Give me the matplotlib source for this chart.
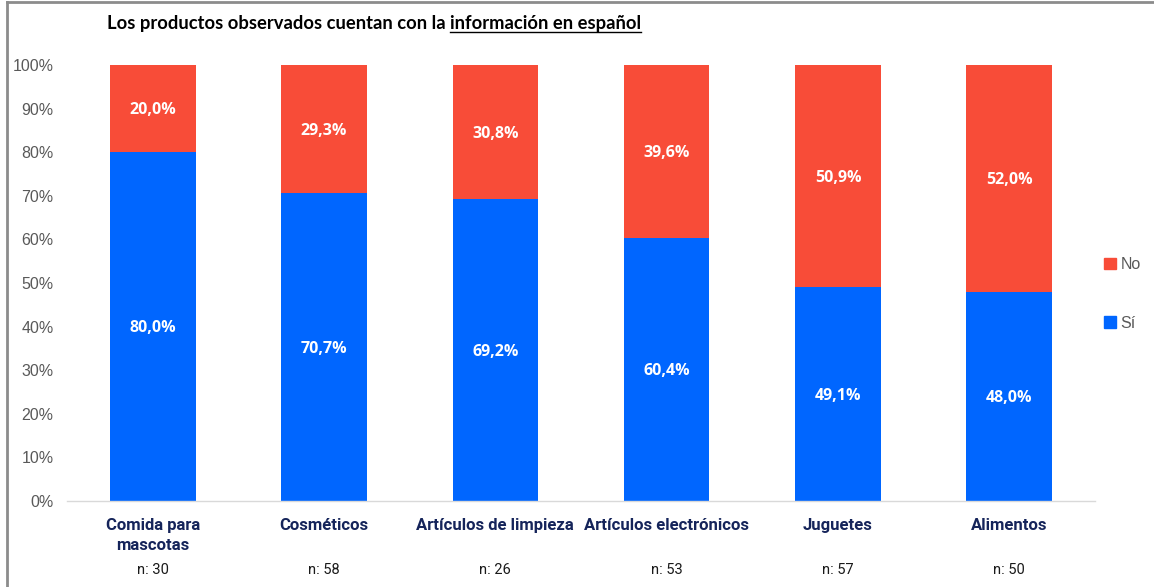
import matplotlib
matplotlib.use("Agg")
import matplotlib.pyplot as plt
from matplotlib.lines import Line2D
import numpy as np

categories = ["Comida para\nmascotas", "Cosméticos", "Artículos de limpieza",
              "Artículos electrónicos", "Juguetes", "Alimentos"]
si_vals = [80.0, 70.7, 69.2, 60.4, 49.1, 48.0]
no_vals = [20.0, 29.3, 30.8, 39.6, 50.9, 52.0]
n_vals = [30, 58, 26, 53, 57, 50]
yticks = [0, 10, 20, 30, 40, 50, 60, 70, 80, 90, 100]

c_si = "#0066FF"
c_no = "#F84C38"

W, H = 1154, 587
fig = plt.figure(figsize=(W/100, H/100), dpi=100)
ax = fig.add_axes([67/W, 1-501/H, (1095-67)/W, (501-65)/H])

x = np.arange(len(categories))
ax.bar(x, si_vals, width=0.5, color=c_si, label="Sí", zorder=2)
ax.bar(x, no_vals, bottom=si_vals, width=0.5, color=c_no, label="No", zorder=2)

for xi, s, n in zip(x, si_vals, no_vals):
    ax.text(xi, s/2 - 0.4, f"{s:.1f}".replace(".", ",") + "%", ha="center", va="center",
            color="white", fontsize=11.5, fontweight="bold", family="Open Sans")
    ax.text(xi, s + n/2 - 0.4, f"{n:.1f}".replace(".", ",") + "%", ha="center", va="center",
            color="white", fontsize=11.5, fontweight="bold", family="Open Sans")

ax.set_xlim(-0.5, len(categories)-0.5)
ax.set_ylim(0, 100)
ax.set_yticks(yticks)
ax.set_yticklabels([f"{t}%" for t in yticks], color="#595959", fontsize=11.5, family="Liberation Sans")
ax.tick_params(axis="y", length=0, pad=9.7)
ax.set_xticks([])
for s in ["top", "right", "left"]:
    ax.spines[s].set_visible(False)
ax.spines["bottom"].set_color("#D9D9D9")
ax.spines["bottom"].set_linewidth(1)

for xi, cat, n in zip(x, categories, n_vals):
    ax.text(xi, -3.9, cat, ha="center", va="top", color="#15245A", fontsize=12,
            fontweight="bold", family="Roboto", linespacing=1.45)
    ax.text(xi, -14.2, f"n: {n}", ha="center", va="top", color="#1a1a1a", fontsize=10.5,
            family="Roboto")

title_y = 1 - 23/H
t1 = fig.text(107/W, title_y, "Los productos observados cuentan con la ", ha="left", va="center",
              fontsize=13.2, fontweight="bold", family="Lato", color="black")
fig.canvas.draw()
bb = t1.get_window_extent()
t2 = fig.text(bb.x1/W, title_y, "información en español", ha="left", va="center",
              fontsize=13.2, fontweight="bold", family="Lato", color="black")
fig.canvas.draw()
bb2 = t2.get_window_extent()
fig.add_artist(Line2D([bb2.x0/W, bb2.x1/W], [1-32/H, 1-32/H], color="black", lw=1))

handles = [plt.Rectangle((0, 0), 1, 1, color=c_no), plt.Rectangle((0, 0), 1, 1, color=c_si)]
leg = fig.legend(handles, ["No", "Sí"], loc="center left", bbox_to_anchor=(1090/W, 1-294/H),
                 frameon=False, handlelength=0.7, handleheight=0.7, handletextpad=0.3,
                 labelspacing=2.7, prop={"family": "Liberation Sans", "size": 11.5})
for t in leg.get_texts():
    t.set_color("#595959")

fig.add_artist(Line2D([7/W, 7/W], [0, 1-2/H], color="#8C8C8C", lw=2))
fig.add_artist(Line2D([7/W, 1], [1-2/H, 1-2/H], color="#8C8C8C", lw=2))

fig.savefig("out.png", dpi=100)
